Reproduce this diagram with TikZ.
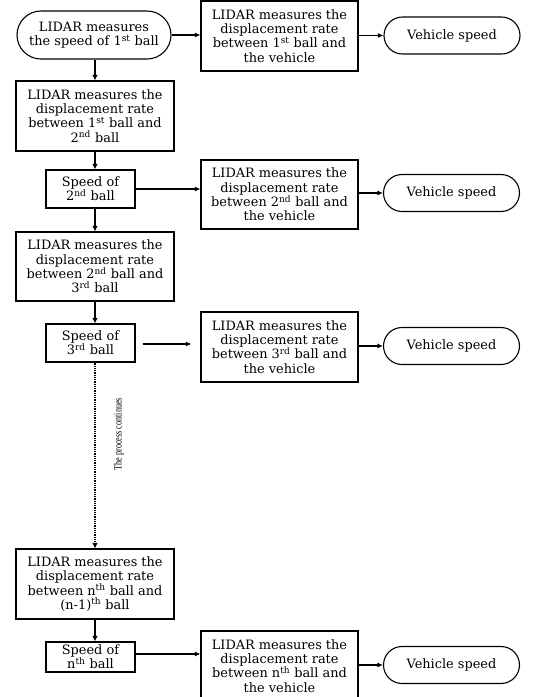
\documentclass[tikz,border=0pt]{standalone}
\usepackage{fontspec}
\usepackage{graphicx}
\setmainfont{DejaVu Serif}
\newfontfamily\labfont{Liberation Serif}
\usetikzlibrary{arrows.meta,shapes.misc}
\newcommand{\sups}[1]{\textsuperscript{#1}}
\tikzset{
  base/.style={draw=black, line width=1.1pt, align=center, inner sep=1pt,
    font=\fontsize{12.9}{14.3}\selectfont, text=black},
  boxr/.style={base, rectangle, minimum width=157pt, minimum height=70pt},
  boxs/.style={base, rectangle, minimum width=89pt, minimum height=38pt},
  pill/.style={base, rounded rectangle, minimum width=138pt, minimum height=37pt},
  arr/.style={line width=1.1pt, -{Latex[length=5.5pt,width=5pt]}},
  varr/.style={line width=1.6pt, -{Latex[length=5.5pt,width=5.5pt]}},
}
\begin{document}
\begin{tikzpicture}[x=1pt,y=-1pt]
\useasboundingbox (0,0) rectangle (537,697);
% row 1
\node[pill, minimum width=156pt, minimum height=48pt] (s1) at (94,35) {LIDAR measures\\the speed of 1\sups{st} ball};
\node[boxr] (r1) at (279.5,36) {LIDAR measures the\\displacement rate\\between 1\sups{st} ball and\\the vehicle};
\node[pill] (v1) at (452,35.5) {Vehicle speed};
\node[boxr, minimum width=158pt] (a1) at (95,116) {LIDAR measures the\\displacement rate\\between 1\sups{st} ball and\\2\sups{nd} ball};
% row 2
\node[boxs] (s2) at (90.5,189) {Speed of\\2\sups{nd} ball};
\node[boxr, minimum height=69pt] (r2) at (279.5,194.5) {LIDAR measures the\\displacement rate\\between 2\sups{nd} ball and\\the vehicle};
\node[pill] (v2) at (451.5,193) {Vehicle speed};
\node[boxr, minimum width=158pt, minimum height=69pt] (a2) at (95,266.5) {LIDAR measures the\\displacement rate\\between 2\sups{nd} ball and\\3\sups{rd} ball};
% row 3
\node[boxs] (s3) at (90.5,343) {Speed of\\3\sups{rd} ball};
\node[boxr] (r3) at (279.5,347) {LIDAR measures the\\displacement rate\\between 3\sups{rd} ball and\\the vehicle};
\node[pill] (v3) at (451.5,346) {Vehicle speed};
% row n
\node[boxr, minimum width=158pt] (an) at (95,584) {LIDAR measures the\\displacement rate\\between n\sups{th} ball and\\(n-1)\sups{th} ball};
\node[boxs, minimum height=30pt] (sn) at (90.5,657) {Speed of\\n\sups{th} ball};
\node[boxr] (rn) at (279.5,666) {LIDAR measures the\\displacement rate\\between n\sups{th} ball and\\the vehicle};
\node[pill] (vn) at (451.5,665) {Vehicle speed};
% label
\node[rotate=90, inner sep=0pt] (lab) at (119,434) {\scalebox{0.74}[1]{\labfont\fontsize{11}{12}\selectfont The process continues}};
% connectors
\draw[arr] (s1.east) -- (s1.east -| r1.west);
\draw[arr] (r1.east |- v1.west) -- (v1.west);
\draw[varr] (s1.south -| a1.north) -- (a1.north);
\draw[varr] (a1.south) -- (a1.south |- s2.north);
\draw[arr] (s2.east) -- (s2.east -| r2.west);
\draw[arr] (r2.east |- v2.west) -- (v2.west);
\draw[varr] (a2.north |- s2.south) -- (a2.north);
\draw[varr] (a2.south) -- (a2.south |- s3.north);
\draw[arr, shorten <=7pt, shorten >=9pt] ([yshift=-1pt]s3.east) -- ([yshift=-1pt]s3.east -| r3.west);
\draw[arr] (r3.east |- v3.west) -- (v3.west);
\draw[line width=1.3pt, dash pattern=on 0.9pt off 0.9pt, -{Latex[length=5.5pt,width=5.5pt]}] (an.north |- s3.south) -- (an.north);
\draw[varr] (an.south) -- (an.south |- sn.north);
\draw[arr] ([yshift=3pt]sn.east) -- ([yshift=3pt]sn.east -| rn.west);
\draw[arr] (rn.east |- vn.west) -- (vn.west);
\end{tikzpicture}
\end{document}
